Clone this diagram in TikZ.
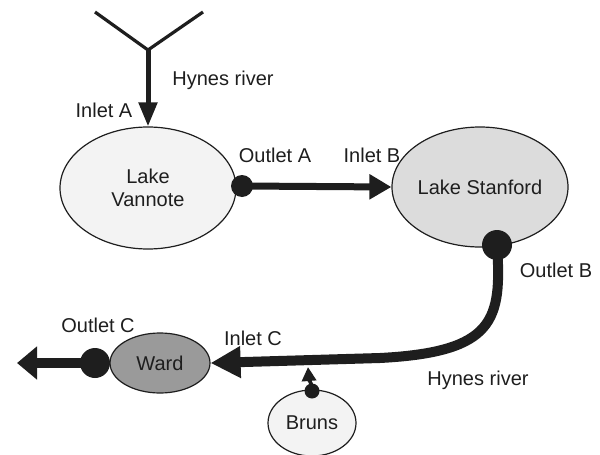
\documentclass[tikz,border=0pt]{standalone}
\usepackage{fontspec}
\setmainfont{Liberation Sans}
\usetikzlibrary{arrows.meta,shapes.geometric}
\definecolor{ink}{HTML}{1E1E1E}
\definecolor{palefill}{HTML}{F3F3F3}
\definecolor{lightfill}{HTML}{DCDCDC}
\definecolor{midfill}{HTML}{9A9A9A}
\begin{document}
\begin{tikzpicture}[x=0.5pt,y=-0.5pt,
  lake/.style={ellipse, draw=ink, line width=0.6pt, inner sep=0pt},
  knob/.style={circle, fill=ink, inner sep=0pt},
  lbl/.style={text=ink, font=\fontsize{10}{11.5}\selectfont},
  flow/.style={draw=ink, line cap=butt}
]
\useasboundingbox (0,0) rectangle (600,455);

% lakes
\node[lake, fill=palefill, minimum width=176*0.5pt, minimum height=122*0.5pt] (vannote) at (148,188) {};
\node[lbl, align=center] at (148,188) {Lake\\Vannote};
\node[lake, fill=lightfill, minimum width=176*0.5pt, minimum height=120*0.5pt] (stanford) at (480,187) {};
\node[lbl] at (480,187) {Lake Stanford};
\node[lake, fill=midfill, minimum width=100*0.5pt, minimum height=60*0.5pt] (ward) at (160,363) {};
\node[lbl] at (160,363) {Ward};
\node[lake, fill=palefill, minimum width=88*0.5pt, minimum height=66*0.5pt] (bruns) at (312,423) {};
\node[lbl] at (312,423) {Bruns};

% outlet knobs
\node[knob, minimum size=22*0.5pt] (outA) at (242,186) {};
\node[knob, minimum size=30*0.5pt] (outB) at (497,245) {};
\node[knob, minimum size=30*0.5pt] (outC) at (95,363) {};
\node[knob, minimum size=15*0.5pt] (outBr) at (312,391) {};

% river tributaries
\coordinate (ytopL) at (95,12);
\coordinate (ytopR) at (203,12);
\coordinate (yjoin) at (148,50);
\coordinate (exitC) at (17,363);
\coordinate (bend) at (380,358);
\coordinate (joinBr) at (308,367);

\draw[flow, line width=1.6pt, line join=miter] (ytopL) -- (yjoin) -- (ytopR);
\draw[flow, line width=2.5pt, -{Triangle[length=12pt,width=9pt]}] (yjoin) -- (vannote.north);

% Vannote to Stanford
\draw[flow, line width=3.5pt, -{Triangle[length=11pt,width=12pt]}] (outA.center) -- (stanford.west);

% Stanford down to Ward
\draw[flow, line width=5pt, -{Triangle[length=15pt,width=15pt]}]
  (outB.center) .. controls (502,320) and (495,352) .. (bend) -- (ward.east);

% Ward outflow
\draw[flow, line width=5pt, -{Triangle[length=10pt,width=16pt]}] (outC.center) -- (exitC);

% Bruns tributary
\draw[flow, line width=1.8pt, -{Triangle[length=7pt,width=7pt]}] (outBr.center) .. controls (313,385) and (309,380) .. (joinBr);

% labels
\node[lbl] at (223,80) {Hynes river};
\node[lbl] at (104,110) {Inlet A};
\node[lbl] at (275,155) {Outlet A};
\node[lbl] at (372,155) {Inlet B};
\node[lbl] at (556,270) {Outlet B};
\node[lbl] at (98,325) {Outlet C};
\node[lbl] at (253,338) {Inlet C};
\node[lbl] at (478,380) {Hynes river};
\end{tikzpicture}
\end{document}
